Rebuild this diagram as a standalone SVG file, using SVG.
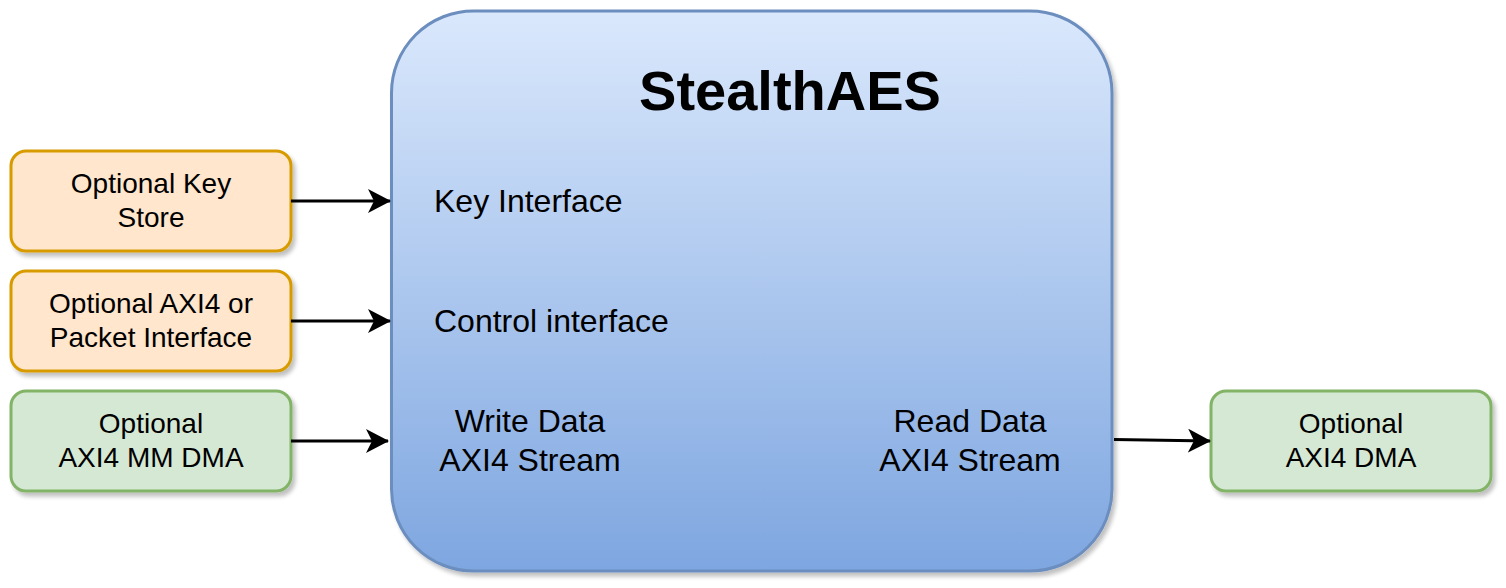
<svg xmlns="http://www.w3.org/2000/svg" width="1506" height="588" viewBox="0 0 1506 588">
  <defs>
    <linearGradient id="mainGrad" x1="0" y1="0" x2="0" y2="1">
      <stop offset="0" stop-color="#dae8fc"/>
      <stop offset="1" stop-color="#7ea6e0"/>
    </linearGradient>
    <filter id="shadow" x="-10%" y="-10%" width="120%" height="130%">
      <feGaussianBlur in="SourceAlpha" stdDeviation="2"/>
      <feOffset dx="3" dy="4" result="b"/>
      <feComponentTransfer><feFuncA type="linear" slope="0.25"/></feComponentTransfer>
      <feMerge><feMergeNode/><feMergeNode in="SourceGraphic"/></feMerge>
    </filter>
    <marker id="arrow" viewBox="0 0 24 24" markerWidth="24" markerHeight="24" refX="22" refY="12" orient="auto" markerUnits="userSpaceOnUse">
      <path d="M0,0 L23,12 L0,24 L6,12 Z" fill="#000"/>
    </marker>
  </defs>
  <style>
    .lbl { font-family: "Liberation Sans", Arial, sans-serif; fill: #000; }
    .small { font-size: 28px; text-anchor: middle; }
    .inner { font-size: 32px; }
    .title { font-size: 56px; font-weight: bold; text-anchor: middle; }
    .orange { fill: #ffe6cc; stroke: #d79b00; stroke-width: 3; }
    .green { fill: #d5e8d4; stroke: #82b366; stroke-width: 3; }
    .conn { stroke: #000; stroke-width: 3; fill: none; marker-end: url(#arrow); }
  </style>
  <rect width="1506" height="588" fill="#ffffff"/>

  <g id="stealthaes">
    <rect x="391.5" y="11" width="720.5" height="560" rx="82" ry="82" fill="url(#mainGrad)" stroke="#6c8ebf" stroke-width="3" filter="url(#shadow)"/>
    <text class="lbl title" x="790" y="110">StealthAES</text>
    <text class="lbl inner" x="434" y="212">Key Interface</text>
    <text class="lbl inner" x="434" y="332">Control interface</text>
    <text class="lbl inner" x="530" y="432" text-anchor="middle">Write Data</text>
    <text class="lbl inner" x="530" y="471" text-anchor="middle">AXI4 Stream</text>
    <text class="lbl inner" x="970" y="432" text-anchor="middle">Read Data</text>
    <text class="lbl inner" x="970" y="471" text-anchor="middle">AXI4 Stream</text>
  </g>

  <g id="keystore">
    <rect class="orange" x="11" y="151" width="280" height="100" rx="15" ry="15" filter="url(#shadow)"/>
    <text class="lbl small" x="151" y="193">Optional Key</text>
    <text class="lbl small" x="151" y="227">Store</text>
  </g>

  <g id="axi4packet">
    <rect class="orange" x="11" y="271" width="280" height="100" rx="15" ry="15" filter="url(#shadow)"/>
    <text class="lbl small" x="151" y="313">Optional AXI4 or</text>
    <text class="lbl small" x="151" y="347">Packet Interface</text>
  </g>

  <g id="mmdma">
    <rect class="green" x="11" y="391" width="280" height="100" rx="15" ry="15" filter="url(#shadow)"/>
    <text class="lbl small" x="151" y="433">Optional</text>
    <text class="lbl small" x="151" y="467">AXI4 MM DMA</text>
  </g>

  <g id="axidma">
    <rect class="green" x="1211" y="391" width="280" height="100" rx="15" ry="15" filter="url(#shadow)"/>
    <text class="lbl small" x="1351" y="433">Optional</text>
    <text class="lbl small" x="1351" y="467">AXI4 DMA</text>
  </g>

  <g id="connectors">
    <line class="conn" x1="291" y1="201" x2="390" y2="201"/>
    <line class="conn" x1="291" y1="321" x2="390" y2="321"/>
    <line class="conn" x1="291" y1="441" x2="388" y2="441"/>
    <line class="conn" x1="1114" y1="439.5" x2="1210" y2="441"/>
  </g>
</svg>
